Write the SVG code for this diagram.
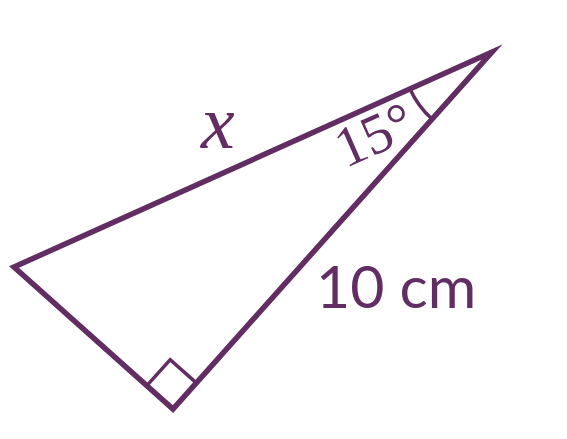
<svg xmlns="http://www.w3.org/2000/svg" width="567" height="439" viewBox="0 0 567 439">
<style>
.ln{fill:none;stroke:#612d63;stroke-width:5.5;stroke-linejoin:miter;stroke-miterlimit:10}
.thin{fill:none;stroke:#612d63;stroke-width:3.5}
.lbl{fill:#612d63}
</style>
<rect width="567" height="439" fill="#fff"/>
<g id="connectors">
<polygon class="ln" points="14,267 492,52 173,409"/>
<polyline class="thin" points="146.9,385.7 170.2,359.6 196.3,382.9"/>
<path class="thin" d="M410,89 A90,90 0 0 0 432,119"/>
</g>
<g id="label-x"><text class="lbl" x="201" y="148" font-family="Liberation Serif, serif" font-style="italic" font-size="76">x</text></g>
<g id="label-angle"><text class="lbl" transform="translate(382,152) rotate(-24)" text-anchor="middle" font-family="Liberation Serif, serif" font-size="57">15°</text></g>
<g id="label-side"><text class="lbl" x="316" y="308" font-family="Lato, sans-serif" font-size="59">10 cm</text></g>
</svg>
